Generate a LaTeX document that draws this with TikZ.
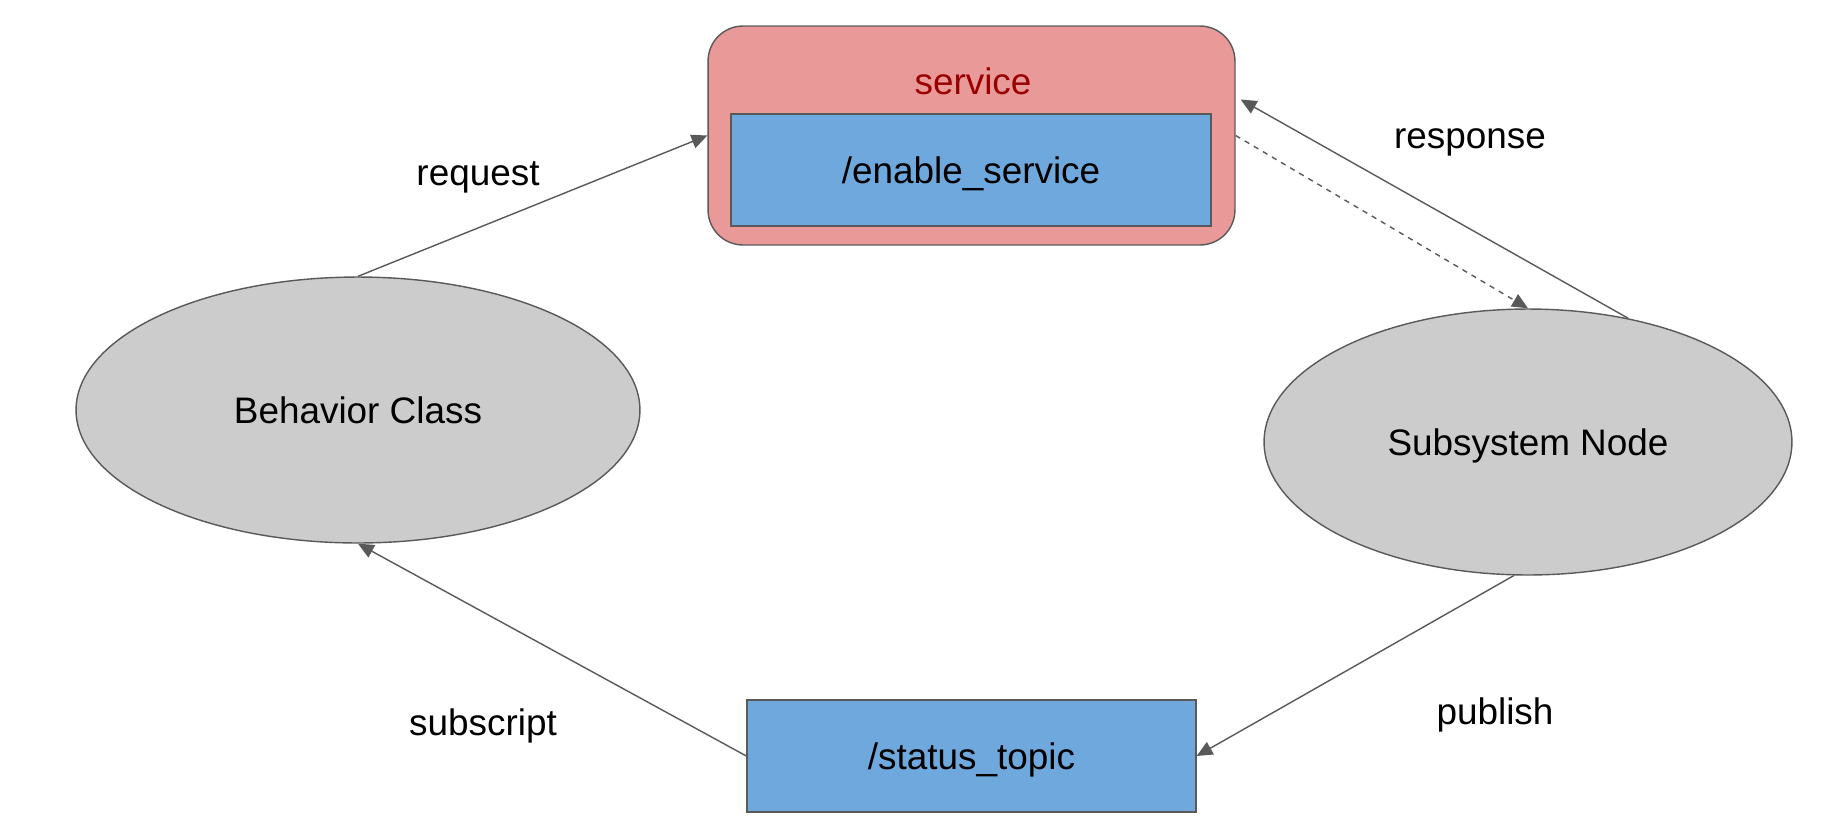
\documentclass[tikz,border=0pt]{standalone}
\usepackage{fontspec}
\setmainfont{Liberation Sans}
\usetikzlibrary{shapes.geometric,arrows.meta,calc}
\definecolor{lineGray}{HTML}{595959}
\definecolor{procGray}{HTML}{CCCCCC}
\definecolor{topicBlue}{HTML}{6FA8DC}
\definecolor{srvRed}{HTML}{EA9999}
\definecolor{srvText}{HTML}{990000}
\tikzset{
  proc/.style={ellipse, draw=lineGray, fill=procGray, line width=0.8pt, minimum height=5.32cm},
  topic/.style={rectangle, draw=lineGray, fill=topicBlue, line width=0.8pt, minimum width=9.6cm, minimum height=2.24cm},
  srvbox/.style={rectangle, rounded corners=0.7cm, draw=lineGray, fill=srvRed, line width=0.8pt, minimum width=10.54cm, minimum height=4.38cm},
  link/.style={draw=lineGray, line width=0.8pt, -{Triangle[length=9pt,width=8pt]}},
  lbl/.style={text=black}
}
\begin{document}
\begin{tikzpicture}[x=0.02cm, y=-0.02cm, font=\fontsize{21}{25}\selectfont, every node/.append style={text depth=0pt}]
    \useasboundingbox (0,0) rectangle (1847,833);
    \node[srvbox](svc) at (971.5,135.5) {};
    \node[text=srvText](svct) at (973,81) {service};
    \node[topic](es) at (971,170) {/enable\_service};
    \node[proc, minimum width=11.28cm](bc) at (358,410) {Behavior Class};
    \node[proc, minimum width=10.56cm](sn) at (1528,442) {Subsystem Node};
    \node[topic, minimum width=8.98cm](st) at (971.5,756) {/status\_topic};
    \node[lbl](req) at (478,174) {request};
    \node[lbl](res) at (1470,139) {response};
    \node[lbl](sub) at (483,722) {subscript};
    \node[lbl](pub) at (1495,711) {publish};
    \draw[link] (bc.north) to (svc.west);
    \draw[link] (sn.51) to ($(svc.east)+(5,-36)$);
    \draw[link, dashed] (svc.east) to (sn.north);
    \draw[link] (sn.264) to (st.east);
    \draw[link] (st.west) to (bc.south);
\end{tikzpicture}
\end{document}
